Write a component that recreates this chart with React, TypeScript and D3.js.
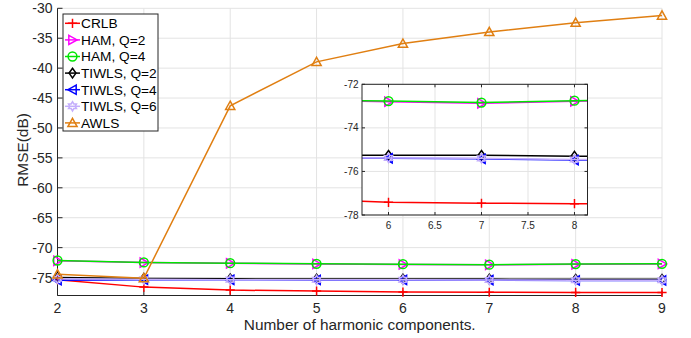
import React from 'react';
import * as d3 from 'd3';

const harmonics = [2, 3, 4, 5, 6, 7, 8, 9];

const crlb = [-75.35, -76.6, -77.1, -77.25, -77.42, -77.46, -77.48, -77.5];
const hamQ2 = [-72.2, -72.5, -72.62, -72.72, -72.8, -72.87, -72.78, -72.72];
const hamQ4 = [-72.15, -72.48, -72.6, -72.7, -72.77, -72.84, -72.75, -72.7];
const tiwlsQ2 = [-75.0, -75.15, -75.22, -75.25, -75.26, -75.26, -75.3, -75.3];
const tiwlsQ4 = [-75.45, -75.35, -75.38, -75.4, -75.4, -75.42, -75.48, -75.48];
const tiwlsQ6 = [-75.2, -75.3, -75.35, -75.38, -75.38, -75.4, -75.45, -75.45];
const awls = [-74.45, -75.1, -46.3, -38.95, -35.9, -33.95, -32.4, -31.2];

const mainYTicks = [-75, -70, -65, -60, -55, -50, -45, -40, -35, -30];
const insetXTicks = [6, 6.5, 7, 7.5, 8];
const insetYTicks = [-72, -74, -76, -78];

type Marker = 'plus' | 'tri-right' | 'circle' | 'diamond' | 'tri-left' | 'hexagram' | 'tri-up';

const series: { name: string; values: number[]; color: string; marker: Marker }[] = [
  { name: 'CRLB', values: crlb, color: '#ff0000', marker: 'plus' },
  { name: 'HAM, Q=2', values: hamQ2, color: '#ff00ff', marker: 'tri-right' },
  { name: 'HAM, Q=4', values: hamQ4, color: '#00e600', marker: 'circle' },
  { name: 'TIWLS, Q=2', values: tiwlsQ2, color: '#000000', marker: 'diamond' },
  { name: 'TIWLS, Q=4', values: tiwlsQ4, color: '#0000ff', marker: 'tri-left' },
  { name: 'TIWLS, Q=6', values: tiwlsQ6, color: '#c4aefc', marker: 'hexagram' },
  { name: 'AWLS', values: awls, color: '#e07f12', marker: 'tri-up' },
];

const FONT = '"Liberation Sans", Arial, Helvetica, sans-serif';
const AXIS = '#262626';
const GRID = '#e3e3e3';

function markerPath(m: Marker, s = 4.6): string {
  switch (m) {
    case 'plus':
      return `M${-s},0H${s}M0,${-s}V${s}`;
    case 'tri-right':
      return `M${-s * 0.8},${-s}L${s},0L${-s * 0.8},${s}Z`;
    case 'tri-left':
      return `M${s * 0.8},${-s}L${-s},0L${s * 0.8},${s}Z`;
    case 'tri-up':
      return `M0,${-s}L${s},${s * 0.8}L${-s},${s * 0.8}Z`;
    case 'diamond':
      return `M0,${-s * 1.05}L${s * 0.75},0L0,${s * 1.05}L${-s * 0.75},0Z`;
    case 'hexagram': {
      const pts: string[] = [];
      for (let i = 0; i < 12; i++) {
        const r = i % 2 === 0 ? s : s * 0.58;
        const a = (Math.PI / 6) * i - Math.PI / 2;
        pts.push(`${(r * Math.cos(a)).toFixed(2)},${(r * Math.sin(a)).toFixed(2)}`);
      }
      return 'M' + pts.join('L') + 'Z';
    }
    default:
      return '';
  }
}

const MarkerShape: React.FC<{ m: Marker; x: number; y: number; color: string }> = ({ m, x, y, color }) => {
  if (m === 'circle') {
    return <circle cx={x} cy={y} r={4.4} fill="none" stroke={color} strokeWidth={1.5} />;
  }
  return (
    <path
      d={markerPath(m)}
      transform={`translate(${x},${y})`}
      fill="none"
      stroke={color}
      strokeWidth={1.5}
      strokeLinejoin="miter"
    />
  );
};

const App: React.FC = () => {
  const width = 691;
  const height = 338;

  // main axes
  const x = d3.scaleLinear().domain([2, 9]).range([57.5, 662]);
  const y = d3.scaleLinear().domain([-78, -30]).range([295.5, 8.3]);

  // inset axes
  const ix = d3.scaleLinear().domain([5.715, 8.14]).range([362, 587.5]);
  const iy = d3.scaleLinear().domain([-78, -72]).range([215, 84.3]);

  const line = d3
    .line<number>()
    .x((_, i) => x(harmonics[i]))
    .y((d) => y(d));

  const insetLine = d3
    .line<number>()
    .x((_, i) => ix(harmonics[i]))
    .y((d) => iy(d));

  const legendX = 63;
  const legendY = 14;
  const legendRow = 16.6;

  return (
    <svg
      width={width}
      height={height}
      style={{ position: 'absolute', left: 0, top: 0, background: '#fff' }}
      fontFamily={FONT}
    >
      <defs>
        <clipPath id="inset-clip">
          <rect x={362} y={84.3} width={225.5} height={130.7} />
        </clipPath>
      </defs>

      {/* main grid */}
      {harmonics.map((h) => (
        <line key={'gx' + h} x1={x(h)} x2={x(h)} y1={y(-78)} y2={y(-30)} stroke={GRID} strokeWidth={1} />
      ))}
      {mainYTicks.map((t) => (
        <line key={'gy' + t} x1={x(2)} x2={x(9)} y1={y(t)} y2={y(t)} stroke={GRID} strokeWidth={1} />
      ))}

      {/* main axes lines */}
      <line x1={x(2)} x2={x(2)} y1={y(-78)} y2={y(-30)} stroke={AXIS} strokeWidth={1} />
      <line x1={x(2)} x2={x(9)} y1={y(-78)} y2={y(-78)} stroke={AXIS} strokeWidth={1} />
      {mainYTicks.map((t) => (
        <g key={'yt' + t}>
          <line x1={x(2)} x2={x(2) + 5} y1={y(t)} y2={y(t)} stroke={AXIS} />
          <text x={52.5} y={y(t) + 5} textAnchor="end" fontSize={14} fill={AXIS}>
            {t}
          </text>
        </g>
      ))}
      {harmonics.map((h) => (
        <g key={'xt' + h}>
          <line x1={x(h)} x2={x(h)} y1={y(-78)} y2={y(-78) - 5} stroke={AXIS} />
          <text x={x(h)} y={313} textAnchor="middle" fontSize={14} fill={AXIS}>
            {h}
          </text>
        </g>
      ))}
      <text x={(x(2) + x(9)) / 2} y={330} textAnchor="middle" fontSize={15.4} fill={AXIS}>
        Number of harmonic components.
      </text>
      <text
        transform={`translate(27.5,150) rotate(-90)`}
        textAnchor="middle"
        fontSize={15.4}
        fill={AXIS}
      >
        RMSE(dB)
      </text>

      {/* main series */}
      {series.map((s) => (
        <g key={s.name}>
          <path d={line(s.values) ?? ''} fill="none" stroke={s.color} strokeWidth={1.5} />
          {s.values.map((v, i) => (
            <MarkerShape key={i} m={s.marker} x={x(harmonics[i])} y={y(v)} color={s.color} />
          ))}
        </g>
      ))}

      {/* inset */}
      <rect x={362} y={84.3} width={225.5} height={130.7} fill="#fff" />
      {insetXTicks.map((t) => (
        <line key={'igx' + t} x1={ix(t)} x2={ix(t)} y1={84.3} y2={215} stroke={GRID} />
      ))}
      {insetYTicks.map((t) => (
        <line key={'igy' + t} x1={362} x2={587.5} y1={iy(t)} y2={iy(t)} stroke={GRID} />
      ))}
      <g clipPath="url(#inset-clip)">
        {series
          .filter((s) => s.name !== 'AWLS')
          .map((s) => (
            <g key={'i' + s.name}>
              <path d={insetLine(s.values) ?? ''} fill="none" stroke={s.color} strokeWidth={1.5} />
              {s.values.map((v, i) =>
                harmonics[i] >= 6 && harmonics[i] <= 8 ? (
                  <MarkerShape key={i} m={s.marker} x={ix(harmonics[i])} y={iy(v)} color={s.color} />
                ) : null
              )}
            </g>
          ))}
      </g>
      <rect x={362} y={84.3} width={225.5} height={130.7} fill="none" stroke={AXIS} strokeWidth={1} />
      {insetXTicks.map((t) => (
        <g key={'ixt' + t}>
          <line x1={ix(t)} x2={ix(t)} y1={215} y2={212} stroke={AXIS} />
          <line x1={ix(t)} x2={ix(t)} y1={84.3} y2={87.3} stroke={AXIS} />
          <text x={ix(t)} y={228.5} textAnchor="middle" fontSize={10} fill={AXIS}>
            {t}
          </text>
        </g>
      ))}
      {insetYTicks.map((t) => (
        <g key={'iyt' + t}>
          <line x1={362} x2={365} y1={iy(t)} y2={iy(t)} stroke={AXIS} />
          <line x1={587.5} x2={584.5} y1={iy(t)} y2={iy(t)} stroke={AXIS} />
          <text x={358.5} y={iy(t) + 3.5} textAnchor="end" fontSize={10} fill={AXIS}>
            {t}
          </text>
        </g>
      ))}

      {/* legend */}
      <rect x={legendX} y={legendY} width={95} height={117} fill="#fff" stroke={AXIS} strokeWidth={1} />
      {series.map((s, i) => {
        const cy = legendY + 9.3 + i * legendRow;
        return (
          <g key={'lg' + s.name}>
            <line x1={65} x2={80} y1={cy} y2={cy} stroke={s.color} strokeWidth={1.5} />
            <MarkerShape m={s.marker} x={72.5} y={cy} color={s.color} />
            <text x={81} y={cy + 4.9} fontSize={13.7} fill="#000">
              {s.name}
            </text>
          </g>
        );
      })}
    </svg>
  );
};

export default App;
